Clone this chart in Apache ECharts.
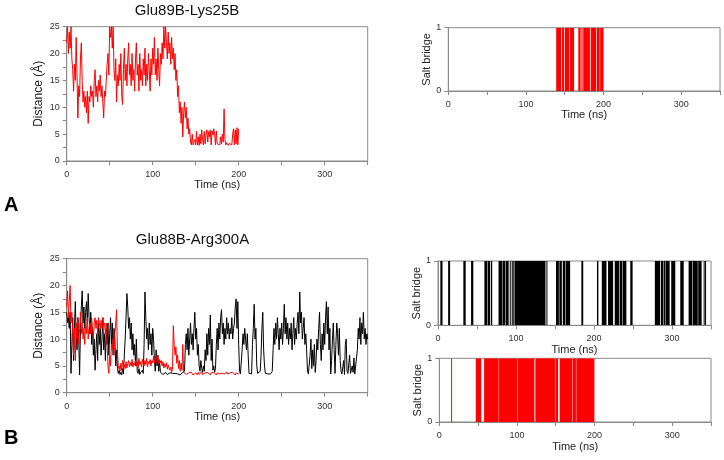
<!DOCTYPE html>
<html>
<head>
<meta charset="utf-8">
<script src="https://cdn.jsdelivr.net/npm/echarts@6/dist/echarts.min.js"></script>
<style>html,body{margin:0;padding:0;background:#fff;}#c{width:724px;height:460px;}</style>
</head>
<body>
<div id="c"></div>
<script>
// ---- Data (time step 1 ns, index = time) ----
var titleA = 'Glu89B-Lys25B';
var titleB = 'Glu88B-Arg300A';
// Panel A: distance Glu89B-Lys25B (red), 0..200 ns
var distA_red = [
22,25,20,24,21,25,19,17,13,18,
15,23,16,8,14,12,19,22,15,11,
13,10,12,9,13,7,12,11,14,12,
13,10,15,17,12,14,11,15,13,16,
12,14,11,8,13,12,15,18,20,16,
25,23,25,21,25,17,15,19,11,16,
14,18,15,20,12,10.5,17,21,15,18,
14,19,22,16,18,14,20,15,17,13,
19,22,16,18,13,20,15,17,14,19,
16,21,14,18,15,20,17,13,19,16,
21,18,23,16,19,15,21,17,14,20,
18,22,19,25,21,25,22,19,24,20,
22,18,23,19,21,17,20,15,17,12,
14,9,11,7,10,4.5,9,11,8,10,
6,8,5,6,3.5,3,5,3,2.8,4,
3,5.5,3,4.5,2.9,5,3.2,5.8,4,3,
5.5,3.2,5,5.8,3.5,5.5,4.5,5.8,3,5.6,
4.8,6,5,3,5.6,3.2,3,3.4,3,4.5,
3.2,5,3.5,9.7,4,3,3.4,3.1,2.9,3.3,
3,3.5,3,5,6,3,5.8,3.2,6.2,3,
6
];
// Panel A salt bridge intervals [start, end] ns
var bridgeA = [[139,145.5],[146.5,149],[150,156],[156.8,162],[167.5,170.5],[171.5,173],[173.8,182.5],[183.5,190.3],[191.2,195],[195.6,200]];
// Panel B: distance Glu88B-Arg300A, black 0..350 ns
var distB_black = [
15,13,14,12,15,3.6,9,14,6,12,
17,11,8,14,10,3.3,12,16,19,13,
16,12,15,17,13,18.5,14,11,15,9,
12,7,10,4.2,8,11,6,13,9,12,
7,10,14,8,11,6,12,9,13,7,
11,14,9,13,7,12,10,5,8,4.5,
3.6,4.2,3.4,3.8,3.3,4.5,3.5,7,10,14,
18.5,16,12,14,10,13,8,11,7,9,
5,10,4,3.6,4.5,3.4,3.8,3.5,4.2,3.6,
9,18.8,14,10,12,8,13,9,11,7,
12,10,6,4,8,5,7,4,6,3.8,
3.5,3.7,3.4,3.6,3.3,3.8,3.5,3.4,3.6,3.3,
3.7,3.5,3.4,3.6,3.5,3.3,3.6,3.4,3.8,3.5,
3.4,3.6,3.3,3.5,3.7,3.4,3.6,4,9,11,
8,12,7,10,13,9,11,8,12,15,
10,12,7,9,5,4,6,4.5,3.8,5,
4,8,6,11,7,12,9,14.5,6,10,
4.2,5,3.8,4.5,9,12,8,13,10,14,
15.5,11,13,9,12,10,14,11,13,10,
12,11,14,10,12,13,16,17.5,12,17,
9,4,3.5,3.4,8,11,9,12,10,8,
11,7,3.6,3.4,3.8,3.5,9,12,16.5,10,
12,5,3.6,3.8,3.4,4,7,12,15,8,
5,3.6,3.4,3.8,3.5,3.4,3.6,3.5,3.8,4,
8,12,9,13,10,14,11,8,12,10,
13,9,12,16.5,11,14,10,13,9,12,
10,13,8,11,14,9,12,10,13,15,
11,18.8,13,15,10,12,14,9,11,8,
4,3.5,3.8,7,10,4.5,8,5,9,3.8,
6,10,8,12,15,9,6,11,8,13,
9,14,17,11,16,8,12,3.5,6,10,
13,8,3.6,9,13,11,7,12,6,4,
3.5,3.8,6,3.4,9,10,4,3.6,3.5,7,
3.6,3.4,5,3.8,6.5,3.5,3.7,3.4,8,12,
10,14,9,13,11,15,10,12,9,11,
10
];
// Panel B: red 0..200 ns
var distB_red = [
16,19,14,17,20,13,15,11,7,12,
6,13,10,14,9,12,15,11,13,10,
12,9,13,11,14,10,12,13,11,14,
12,10,13,14,12,13.5,11,14,13,12,
13.5,12,14,12.5,13,11,13,9,5,3.6,
7,5,9,8,10,7,11,13,15.5,8,
4.5,5,4,5.5,4.2,6,4.8,5.2,4.5,5.8,
4.6,5.4,6,4.8,5.6,5,6.2,4.8,5.6,5.2,
6,5,5.8,4.6,6.4,5.2,5.8,4.8,6.2,5.4,
5,6,5.2,6.4,4.8,5.8,5.4,6.2,5,6,
5.6,6.8,5.4,6.4,7,5.8,6.6,5.4,6.2,5.6,
6,5,5.8,4.6,5.4,4.8,5.6,4.4,5.2,4.6,
4.2,4.8,3.8,4.4,12.5,9,7,8.5,5.5,7,
4.5,6,4,5.5,4.2,9,3.8,3.5,3.7,3.4,
3.6,3.3,3.7,3.5,3.4,3.8,3.5,3.3,3.6,3.4,
3.7,3.5,3.3,3.8,3.4,3.6,3.5,3.9,3.4,3.6,
3.3,3.7,3.5,3.4,3.8,3.5,3.6,3.3,3.7,3.5,
3.4,3.8,3.5,3.6,3.3,3.7,3.4,3.6,3.5,3.8,
3.4,3.6,3.3,3.7,3.5,3.4,3.9,3.5,3.6,3.3,
3.7,3.5,3.4,3.8,3.6,3.5,3.3,3.7,3.4,3.6,
3.5
];
// Panel B salt bridge intervals
var bridgeB_black = [[3,5.8],[13,15.5],[32.5,35.5],[42.4,45.3],[59.5,63],[63.6,66.8],[67.8,69.5],[77.6,82],[82.6,86],[86.6,90.6],[92,92.6],[94.5,95.2],[95.8,96.5],[98,137.8],[139,139.5],[151.3,155],[155.6,158.8],[160,163],[163.6,169.4],[183.8,186.2],[203.8,205.6],[210,216],[218,224.5],[226.6,232],[232.8,236],[236.6,241.5],[246.5,249.5],[278,284.6],[285.6,289],[289.6,291],[291.6,297],[299,304.2],[310.6,315],[321.3,326],[326.6,333],[333.6,338],[340.6,341.6],[342.4,343.4]];
var bridgeB_red = [[15.2,15.9],[47,54],[57.7,76.5],[77,100.5],[101,122.5],[123.7,149],[149.6,153],[155,171],[171.6,176],[176.5,199.8]];

var xTicks = [0,100,200,300];

function pairs(arr){ var out=[]; for(var i=0;i<arr.length;i++){ out.push([i, arr[i]]); } return out; }

var gray = '#8a8a8a';
var FONT = 'Liberation Sans, Arial, Helvetica, sans-serif';

function xAxis(gi, gap){
  return {
    type:'value', gridIndex:gi, min:0, max:350, interval:50,
    name:'Time (ns)', nameLocation:'middle', nameGap:gap,
    nameTextStyle:{fontSize:11, color:'#222', fontFamily:FONT},
    axisLine:{show:true, lineStyle:{color:gray, width:1}},
    axisTick:{show:true, inside:false, length:4, lineStyle:{color:gray}},
    axisLabel:{fontSize:9, color:'#333', fontFamily:FONT, margin:9,
      formatter:function(v){ return xTicks.indexOf(v) >= 0 ? String(v) : ''; }},
    splitLine:{show:false}
  };
}
function yDist(gi){
  return {
    type:'value', gridIndex:gi, min:0, max:25, interval:2.5,
    name:'Distance (Å)', nameLocation:'middle', nameGap:22, nameRotate:90,
    nameTextStyle:{fontSize:12, color:'#222', fontFamily:FONT},
    axisLine:{show:true, lineStyle:{color:gray, width:1}},
    axisTick:{show:true, inside:false, length:4, lineStyle:{color:gray}},
    axisLabel:{fontSize:9, color:'#333', fontFamily:FONT, margin:7,
      formatter:function(v){ return (v % 5 === 0) ? String(v) : ''; }},
    splitLine:{show:false}
  };
}
function yBridge(gi, gap){
  return {
    type:'value', gridIndex:gi, min:0, max:1, interval:1,
    name:'Salt bridge', nameLocation:'middle', nameGap:gap, nameRotate:90,
    nameTextStyle:{fontSize:11, color:'#222', fontFamily:FONT},
    axisLine:{show:true, lineStyle:{color:gray, width:1}},
    axisTick:{show:true, inside:false, length:4, lineStyle:{color:gray}},
    axisLabel:{fontSize:9, color:'#333', fontFamily:FONT, margin:7},
    splitLine:{show:false}
  };
}
function bars(gi, data, color){
  return {
    type:'custom', xAxisIndex:gi, yAxisIndex:gi, data:data, clip:true,
    encode:{x:[0,1]},
    renderItem:function(params, api){
      var s = api.coord([api.value(0), 1]);
      var e = api.coord([api.value(1), 0]);
      return {type:'rect', shape:{x:s[0], y:s[1], width:Math.max(e[0]-s[0], 1), height:e[1]-s[1]}, style:{fill:color}};
    }
  };
}
function line(gi, data, color){
  return {type:'line', xAxisIndex:gi, yAxisIndex:gi, data:pairs(data), showSymbol:false, symbol:'none',
    lineStyle:{color:color, width:1}, clip:true, silent:true};
}

var chart = echarts.init(document.getElementById('c'), null, {renderer:'canvas'});
var gridStyle = {show:true, borderColor:gray, borderWidth:1, backgroundColor:'transparent', containLabel:false};
chart.setOption({
  animation:false,
  backgroundColor:'#fff',
  textStyle:{fontFamily:FONT},
  grid:[
    Object.assign({left:66.7, top:26.7, width:301, height:134.3}, gridStyle),
    Object.assign({left:448.3, top:27.7, width:271.7, height:63.3}, gridStyle),
    Object.assign({left:66.7, top:258.7, width:301, height:134}, gridStyle),
    Object.assign({left:438, top:261, width:273, height:64.3}, gridStyle),
    Object.assign({left:439.3, top:358.3, width:271.7, height:63.7}, gridStyle)
  ],
  xAxis:[xAxis(0,18), xAxis(1,18), xAxis(2,18), xAxis(3,17), xAxis(4,19)],
  yAxis:[yDist(0), yBridge(1,14), yDist(2), yBridge(3,14), yBridge(4,14)],
  series:[
    line(0, distA_red, '#ff0000'),
    bars(1, bridgeA, '#ff0000'),
    line(2, distB_black, '#000000'),
    line(2, distB_red, '#ff0000'),
    bars(3, bridgeB_black, '#000000'),
    bars(4, bridgeB_red, '#ff0000')
  ],
  graphic:[
    {type:'text', x:187, y:11, style:{text:titleA, fontSize:15, fill:'#111', fontFamily:FONT, align:'center', verticalAlign:'middle'}},
    {type:'text', x:192.5, y:240, style:{text:titleB, fontSize:15, fill:'#111', fontFamily:FONT, align:'center', verticalAlign:'middle'}},
    {type:'text', x:4, y:205, style:{text:'A', fontSize:20, fontWeight:'bold', fill:'#000', fontFamily:FONT, align:'left', verticalAlign:'middle'}},
    {type:'text', x:4, y:438, style:{text:'B', fontSize:20, fontWeight:'bold', fill:'#000', fontFamily:FONT, align:'left', verticalAlign:'middle'}}
  ]
});
</script>
</body>
</html>
